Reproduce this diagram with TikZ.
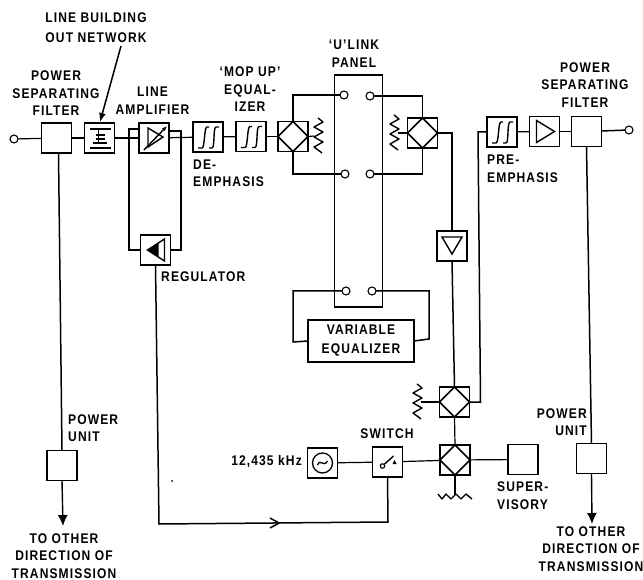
\documentclass[tikz,border=0pt]{standalone}
\usepackage{fontspec}
\setmainfont{Liberation Sans}[LetterSpace=8,FakeStretch=0.86]
\usetikzlibrary{arrows.meta}
\tikzset{
  box/.style={draw,line width=1.5pt,minimum width=30pt,minimum height=30pt,inner sep=0pt,outer sep=0pt},
  term/.style={circle,draw,line width=1.1pt,minimum size=8pt,inner sep=0pt,outer sep=0pt,fill=white},
  wire/.style={line width=1.2pt},
  heavy/.style={line width=1.5pt},
  lab/.style={font=\fontsize{14}{17.5}\selectfont\bfseries,inner sep=0pt,align=center},
  labl/.style={lab,align=left,anchor=west},
  labr/.style={lab,align=right,anchor=east},
  sym/.style={line width=1.4pt},
  down/.style={-{Latex[length=11pt,width=10pt]},line width=1.4pt}
}
\newcommand{\hyb}[1]{\draw[line width=1.5pt,line join=miter] (#1.north)--(#1.east)--(#1.south)--(#1.west)--cycle;}
\newcommand{\flt}[1]{\begin{scope}[shift={(#1)},sym]
 \draw (-10,11)--(-6,11) .. controls (-3,11) and (-4,-10) .. (-1,-10)--(1,-10);
 \draw (1,11)--(4,11) .. controls (7,11) and (5,-10) .. (8,-10)--(11,-10);
 \end{scope}}
\newcommand{\zigv}[1]{\draw[sym,shift={(#1)},line join=round] (0,-18)--(5,-14)--(-4,-9)--(5,-4)--(-4,1)--(5,6)--(-4,11)--(4,17);}
\newcommand{\zigh}[1]{\draw[sym,shift={(#1)},line join=round] (-17,-3)--(-13,2)--(-9,-3)--(-4,2)--(1,-3)--(6,2)--(11,-3)--(17,2);}
\begin{document}
\begin{tikzpicture}[x=1pt,y=-1pt]
\useasboundingbox (0,0) rectangle (643,580);
% boxes
\node[box] (psfa) at (56.5,138) {};
\node[box] (lbo) at (99.5,138) {};
\node[box] (amp) at (154,138) {};
\node[box] (deem) at (208,137) {};
\node[box] (mop) at (251,136.5) {};
\node[box] (hyba) at (293,136.5) {};
\node[box] (reg) at (155.5,250) {};
\node[box] (hybb) at (422.5,133) {};
\node[box] (tri) at (452,246) {};
\node[box] (pre) at (502,132) {};
\node[box] (ampb) at (544.5,131.5) {};
\node[box] (psfb) at (586.5,131.5) {};
\node[box] (hybc) at (454.5,402) {};
\node[box] (hybd) at (455,460) {};
\node[box] (sup) at (523,459.5) {};
\node[box] (osc) at (322.5,463) {};
\node[box] (sw) at (387.5,462) {};
\node[box] (pua) at (62,465.5) {};
\node[box] (pub) at (591.5,458.5) {};
\node[box,minimum width=106pt,minimum height=42pt,font=\fontsize{14}{19}\selectfont\bfseries,align=center] (eq) at (361,341) {VARIABLE\\EQUALIZER};
\node[box,minimum width=48pt,minimum height=232pt,line width=1.3pt] (panel) at (358.5,191) {};
% terminals
\node[term] (ta) at (14,139) {};
\node[term] (tb) at (629,130) {};
\node[term] (u1) at (344,95) {};
\node[term] (u2) at (370,96) {};
\node[term] (u3) at (345,174) {};
\node[term] (u4) at (370,174) {};
\node[term] (u5) at (346,291) {};
\node[term] (u6) at (372,291) {};
% free points
\coordinate (ra) at (314,136);
\coordinate (rb) at (398,133);
\coordinate (rc) at (421,402);
\coordinate (rd) at (455,495);
\coordinate (e1) at (592,524);
\coordinate (e2) at (63,526);
\coordinate (lbotip) at (100,122);
\coordinate (lbofrom) at (121,46);
% symbols
\hyb{hyba}\hyb{hybb}\hyb{hybc}\hyb{hybd}
\flt{deem}\flt{mop}\flt{pre}
\zigv{318,136}\zigv{394,133}\zigv{417,402}\zigh{455,497}
% LBO symbol
\begin{scope}[shift={(lbo)},sym]
\draw (-10,-9)--(11,-9) (-10,10)--(11,10);
\draw (-1,-9)--(-1,6);
\draw (-4,-3)--(5,-3) (-4,1)--(5,1) (-7,5)--(7,5);
\end{scope}
% amp symbol
\begin{scope}[shift={(amp)},sym]
\draw (-6,-10)--(9,-1)--(-6,9)--cycle;
\draw[-{Latex[length=5pt,width=4pt]}] (-10,12)--(13,-12);
\end{scope}
\draw[sym,shift={(reg)}] (9,-11)--(-8,0)--(9,11)--cycle;
\fill[shift={(reg)}] (-8,0)--(3,-7)--(3,7)--cycle;
\draw[sym,shift={(ampb)}] (-8,-11)--(10,0)--(-8,11)--cycle;
\draw[sym,shift={(tri)}] (-10,-9)--(0,8)--(10,-9)--cycle;
\draw[line width=1.3pt,shift={(osc)}] (0,0) circle (10);
\draw[line width=1.3pt,shift={(osc)}] (-5,2) .. controls (-2,-5) and (1,5) .. (5,-2);
% switch symbol
\begin{scope}[shift={(sw)}]
\node[circle,draw,line width=1.1pt,inner sep=0pt,minimum size=4.5pt] (swc) at (-5,4) {};
\draw[sym] (swc)--(6,-6);
\fill (5,2)--(9,2)--(7,-2)--cycle;
\end{scope}
% connectors
\draw[wire] (ta)--(psfa);
\draw[wire] (psfa)--(lbo);
\draw[wire] (lbo)--(amp);
\draw[wire] (amp)--(deem);
\draw[wire] (deem)--(mop);
\draw[wire] (mop)--(hyba);
\draw[wire] (hyba.east)--(ra);
\draw[wire] (hybb.west)--(rb);
\draw[wire] (hyba.north)|-(u1);
\draw[wire] (hyba.south)|-(u3);
\draw[wire] (hybb.north)|-(u2);
\draw[wire] (hybb.south)|-(u4);
\draw[heavy] (hybb.east)-|(tri.north);
\draw[heavy] (tri.south)--(hybc.north);
\draw[wire] (hybc.south)--(hybd.north);
\draw[wire] (hybd.south)--(rd);
\draw[wire] (hybc.west)--(rc);
\draw[heavy] (hybc.east)--++(11,0)--(478,132)--(pre.west);
\draw[wire] (pre)--(ampb);
\draw[heavy] (ampb)--(psfb);
\draw[heavy] (psfb)--(tb);
\draw[heavy] ([xshift=2pt]psfa.south)--(pua.north);
\draw[down] (pua.south)--(e2);
\draw[heavy] (psfb.south)--(pub.north);
\draw[down] (pub.south)--(e1);
\draw[heavy,-{Latex[length=9pt,width=7pt]}] (lbofrom)--(lbotip);
\draw[heavy] ([yshift=9pt]amp.west)-|(129,250)--(reg.west);
\draw[heavy] ([yshift=7pt]amp.east)-|(181,250)--(reg.east);
\draw[heavy] (reg.south)--(159,524)--(388,522)--(sw.south);
\draw[heavy] (270,518)--(279,523)--(270,528);
\draw[wire] (osc)--(sw);
\draw[wire] (sw)--(hybd);
\draw[wire] (hybd)--(sup);
\draw[heavy] (u5)-|(293,342)--(eq.west);
\draw[heavy] (u6)-|(429,339)--(eq.east);
\fill (172,481) circle (1);
% labels
\node[lab] at (96,27.5) {LINE BUILDING\\[3pt]OUT NETWORK};
\node[lab] at (56,93.5) {POWER\\SEPARATING\\FILTER};
\node[lab] at (152.5,100.5) {LINE\\AMPLIFIER};
\node[lab] at (250,89.5) {`MOP UP'\\EQUAL-\\IZER};
\node[labl] at (193,173.5) {DE-\\EMPHASIS};
\node[labl] at (161,277) {REGULATOR};
\node[lab] at (354,53.5) {`U'LINK\\PANEL};
\node[lab] at (585,85) {POWER\\SEPARATING\\FILTER};
\node[labl] at (487,169) {PRE-\\EMPHASIS};
\node[labl] at (68,428) {POWER\\UNIT};
\node[labr] at (587,422) {POWER\\UNIT};
\node[lab] at (64,556) {TO OTHER\\DIRECTION OF\\TRANSMISSION};
\node[lab] at (591,549) {TO OTHER\\DIRECTION OF\\TRANSMISSION};
\node[labr] at (302,462) {12,435 kHz};
\node[lab] at (387,434) {SWITCH};
\node[labl] at (497,495.5) {SUPER-\\VISORY};
\end{tikzpicture}
\end{document}
